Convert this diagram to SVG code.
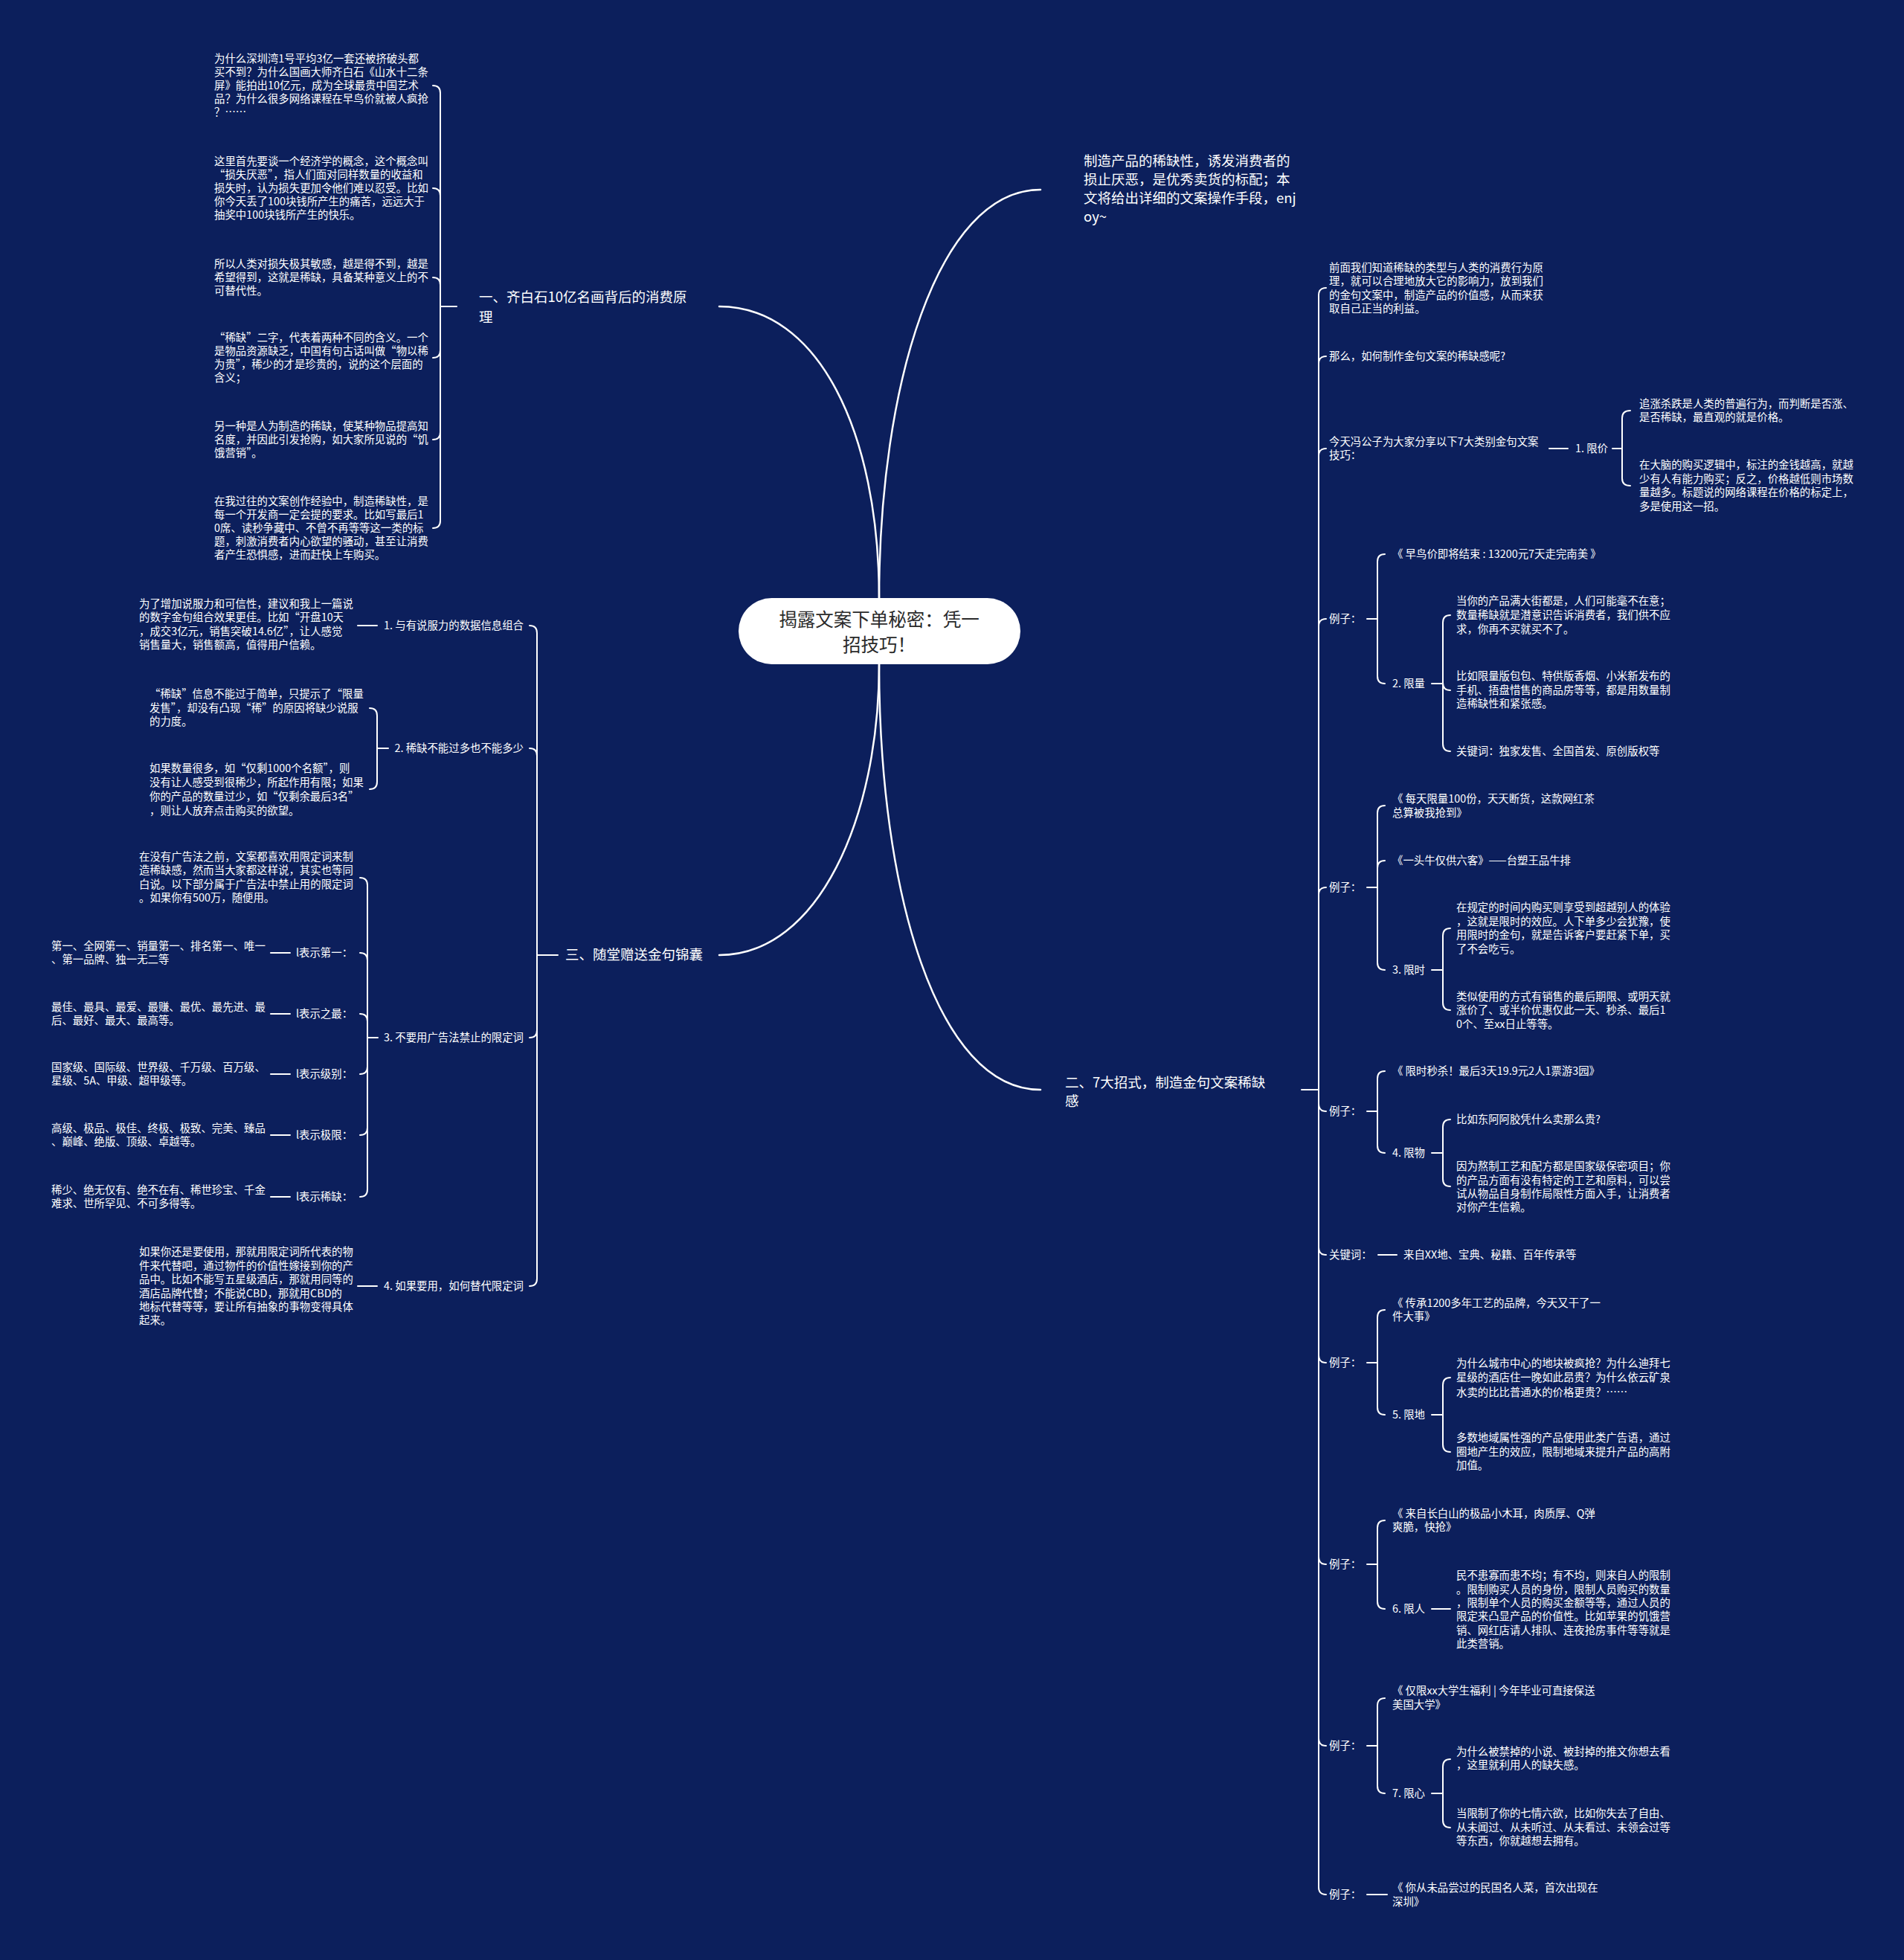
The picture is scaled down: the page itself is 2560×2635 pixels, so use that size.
<svg xmlns="http://www.w3.org/2000/svg" width="2560" height="2635" viewBox="0 0 2560 2635">
<style>
.t{font-family:"Noto Sans CJK SC","Noto Sans",sans-serif;font-size:14.4px;fill:#ffffff}
.m{font-size:18.5px}
.c{font-size:24.5px;fill:#2a2a2a}
.ln{fill:none;stroke:#ffffff;stroke-width:2;stroke-linecap:round}
.mc{stroke-width:2.5}
</style>
<rect x="0" y="0" width="2560" height="2635" fill="#0c1f5c"/>
<g id="connectors">
<path class="ln mc" d="M1182 805 C1182 580 1100 412 967 412"/>
<path class="ln mc" d="M1182 805 C1182 520 1260 255 1399 255"/>
<path class="ln mc" d="M1182 893 C1182 1100 1100 1284 967 1284"/>
<path class="ln mc" d="M1182 893 C1182 1200 1260 1465 1399 1465"/>
<!-- section 1 -->
<path class="ln" d="M592 125 L592 700 M592 412 L614 412 M582 115 Q592 115 592 125 M582 253 Q592 253 592 263 M582 373 Q592 373 592 383 M582 481 Q592 481 592 471 M582 591 Q592 591 592 581 M582 710 Q592 710 592 700"/>
<!-- section 3 -->
<path class="ln" d="M722 851 L722 1719 M722 1284 L750 1284 M712 841 Q722 841 722 851 M712 1006 Q722 1006 722 1016 M712 1395 Q722 1395 722 1385 M712 1729 Q722 1729 722 1719"/>
<path class="ln" d="M481 841 L507 841 M481 1729 L507 1729"/>
<path class="ln" d="M507 962 L507 1051 M507 1006 L522 1006 M497 952 Q507 952 507 962 M497 1061 Q507 1061 507 1051"/>
<path class="ln" d="M494 1190 L494 1599 M494 1395 L508 1395 M484 1180 Q494 1180 494 1190 M484 1281 Q494 1281 494 1291 M484 1363 Q494 1363 494 1373 M484 1444 Q494 1444 494 1434 M484 1526 Q494 1526 494 1516 M484 1609 Q494 1609 494 1599"/>
<path class="ln" d="M364 1281 L390 1281 M364 1363 L390 1363 M364 1444 L390 1444 M364 1526 L390 1526 M364 1609 L390 1609"/>
<!-- section 2 big bracket -->
<path class="ln" d="M1773 397 L1773 2537 M1750 1465 L1773 1465 M1783 387 Q1773 387 1773 397 M1783 479 Q1773 479 1773 489 M1783 603 Q1773 603 1773 613 M1783 832 Q1773 832 1773 842 M1783 1193 Q1773 1193 1773 1203 M1783 1494 Q1773 1494 1773 1484 M1783 1687 Q1773 1687 1773 1677 M1783 1832 Q1773 1832 1773 1822 M1783 2103 Q1773 2103 1773 2093 M1783 2347 Q1773 2347 1773 2337 M1783 2547 Q1773 2547 1773 2537"/>
<path class="ln" d="M2083 603 L2108 603 M2168 603 L2181 603 M2181 562 L2181 643 M2192 552 Q2181 552 2181 562 M2192 653 Q2181 653 2181 643"/>
<path class="ln" d="M1838 832 L1852 832 M1852 755 L1852 909 M1862 745 Q1852 745 1852 755 M1862 919 Q1852 919 1852 909"/>
<path class="ln" d="M1925 919 L1940 919 M1940 837 L1940 1000 M1950 827 Q1940 827 1940 837 M1950 928 Q1940 928 1940 918 M1950 1010 Q1940 1010 1940 1000"/>
<path class="ln" d="M1838 1193 L1852 1193 M1852 1093 L1852 1294 M1862 1083 Q1852 1083 1852 1093 M1862 1157 Q1852 1157 1852 1167 M1862 1304 Q1852 1304 1852 1294"/>
<path class="ln" d="M1925 1304 L1940 1304 M1940 1258 L1940 1348 M1950 1248 Q1940 1248 1940 1258 M1950 1358 Q1940 1358 1940 1348"/>
<path class="ln" d="M1838 1494 L1852 1494 M1852 1450 L1852 1540 M1862 1440 Q1852 1440 1852 1450 M1862 1550 Q1852 1550 1852 1540"/>
<path class="ln" d="M1925 1550 L1940 1550 M1940 1515 L1940 1585 M1950 1505 Q1940 1505 1940 1515 M1950 1595 Q1940 1595 1940 1585"/>
<path class="ln" d="M1853 1687 L1878 1687"/>
<path class="ln" d="M1838 1832 L1852 1832 M1852 1771 L1852 1892 M1862 1761 Q1852 1761 1852 1771 M1862 1902 Q1852 1902 1852 1892"/>
<path class="ln" d="M1925 1902 L1940 1902 M1940 1862 L1940 1942 M1950 1852 Q1940 1852 1940 1862 M1950 1952 Q1940 1952 1940 1942"/>
<path class="ln" d="M1838 2103 L1852 2103 M1852 2054 L1852 2153 M1862 2044 Q1852 2044 1852 2054 M1862 2163 Q1852 2163 1852 2153"/>
<path class="ln" d="M1925 2163 L1950 2163"/>
<path class="ln" d="M1838 2347 L1852 2347 M1852 2293 L1852 2401 M1862 2283 Q1852 2283 1852 2293 M1862 2411 Q1852 2411 1852 2401"/>
<path class="ln" d="M1925 2411 L1940 2411 M1940 2375 L1940 2447 M1950 2365 Q1940 2365 1940 2375 M1950 2457 Q1940 2457 1940 2447"/>
<path class="ln" d="M1838 2547 L1865 2547"/>
</g>
<g id="root">
<rect x="993" y="804" width="379" height="89" rx="44.5" fill="#ffffff"/>
<text class="t c" text-anchor="middle"><tspan x="1182" y="842">揭露文案下单秘密：凭一</tspan><tspan x="1182" y="876">招技巧！</tspan></text>
</g>
<g id="intro">
<text class="t m"><tspan x="1457" y="223">制造产品的稀缺性，诱发消费者的</tspan><tspan x="1457" y="248">损止厌恶，是优秀卖货的标配；本</tspan><tspan x="1457" y="273">文将给出详细的文案操作手段，enj</tspan><tspan x="1457" y="298">oy~</tspan></text>
</g>
<g id="b1">
<text class="t m"><tspan x="644" y="406">一、齐白石10亿名画背后的消费原</tspan><tspan x="644" y="433">理</tspan></text>
</g>
<g id="b1-1"><text class="t"><tspan x="288" y="84">为什么深圳湾1号平均3亿一套还被挤破头都</tspan><tspan x="288" y="102">买不到？为什么国画大师齐白石《山水十二条</tspan><tspan x="288" y="120">屏》能拍出10亿元，成为全球最贵中国艺术</tspan><tspan x="288" y="138">品？为什么很多网络课程在早鸟价就被人疯抢</tspan><tspan x="288" y="156">？……</tspan></text></g>
<g id="b1-2"><text class="t"><tspan x="288" y="222">这里首先要谈一个经济学的概念，这个概念叫</tspan><tspan x="288" y="240">“损失厌恶”，指人们面对同样数量的收益和</tspan><tspan x="288" y="258">损失时，认为损失更加令他们难以忍受。比如</tspan><tspan x="288" y="276">你今天丢了100块钱所产生的痛苦，远远大于</tspan><tspan x="288" y="294">抽奖中100块钱所产生的快乐。</tspan></text></g>
<g id="b1-3"><text class="t"><tspan x="288" y="360">所以人类对损失极其敏感，越是得不到，越是</tspan><tspan x="288" y="378">希望得到，这就是稀缺，具备某种意义上的不</tspan><tspan x="288" y="396">可替代性。</tspan></text></g>
<g id="b1-4"><text class="t"><tspan x="288" y="459">“稀缺”二字，代表着两种不同的含义。一个</tspan><tspan x="288" y="477">是物品资源缺乏，中国有句古话叫做“物以稀</tspan><tspan x="288" y="495">为贵”，稀少的才是珍贵的，说的这个层面的</tspan><tspan x="288" y="513">含义；</tspan></text></g>
<g id="b1-5"><text class="t"><tspan x="288" y="578">另一种是人为制造的稀缺，使某种物品提高知</tspan><tspan x="288" y="596">名度，并因此引发抢购，如大家所见说的“饥</tspan><tspan x="288" y="614">饿营销”。</tspan></text></g>
<g id="b1-6"><text class="t"><tspan x="288" y="679">在我过往的文案创作经验中，制造稀缺性，是</tspan><tspan x="288" y="697">每一个开发商一定会提的要求。比如写最后1</tspan><tspan x="288" y="715">0席、读秒争藏中、不曾不再等等这一类的标</tspan><tspan x="288" y="733">题，刺激消费者内心欲望的骚动，甚至让消费</tspan><tspan x="288" y="751">者产生恐惧感，进而赶快上车购买。</tspan></text></g>
<g id="b3"><text class="t m" x="760" y="1290">三、随堂赠送金句锦囊</text></g>
<g id="b3-1"><text class="t" x="704" y="846" text-anchor="end">1. 与有说服力的数据信息组合</text></g>
<g id="b3-1-1"><text class="t"><tspan x="187" y="817">为了增加说服力和可信性，建议和我上一篇说</tspan><tspan x="187" y="835">的数字金句组合效果更佳。比如“开盘10天</tspan><tspan x="187" y="854">，成交3亿元，销售突破14.6亿”，让人感觉</tspan><tspan x="187" y="872">销售量大，销售额高，值得用户信赖。</tspan></text></g>
<g id="b3-2"><text class="t" x="704" y="1011" text-anchor="end">2. 稀缺不能过多也不能多少</text></g>
<g id="b3-2-1"><text class="t"><tspan x="201" y="938">“稀缺”信息不能过于简单，只提示了“限量</tspan><tspan x="201" y="957">发售”，却没有凸现“稀”的原因将缺少说服</tspan><tspan x="201" y="975">的力度。</tspan></text></g>
<g id="b3-2-2"><text class="t"><tspan x="201" y="1038">如果数量很多，如“仅剩1000个名额”，则</tspan><tspan x="201" y="1057">没有让人感受到很稀少，所起作用有限；如果</tspan><tspan x="201" y="1076">你的产品的数量过少，如“仅剩余最后3名”</tspan><tspan x="201" y="1095">，则让人放弃点击购买的欲望。</tspan></text></g>
<g id="b3-3"><text class="t" x="704" y="1400" text-anchor="end">3. 不要用广告法禁止的限定词</text></g>
<g id="b3-3-0"><text class="t"><tspan x="187" y="1157">在没有广告法之前，文案都喜欢用限定词来制</tspan><tspan x="187" y="1175">造稀缺感，然而当大家都这样说，其实也等同</tspan><tspan x="187" y="1194">白说。以下部分属于广告法中禁止用的限定词</tspan><tspan x="187" y="1212">。如果你有500万，随便用。</tspan></text></g>
<g id="b3-3-1"><text class="t" x="398" y="1286">l表示第一：</text></g>
<g id="b3-3-1a"><text class="t"><tspan x="69" y="1277">第一、全网第一、销量第一、排名第一、唯一</tspan><tspan x="69" y="1295">、第一品牌、独一无二等</tspan></text></g>
<g id="b3-3-2"><text class="t" x="398" y="1368">l表示之最：</text></g>
<g id="b3-3-2a"><text class="t"><tspan x="69" y="1359">最佳、最具、最爱、最赚、最优、最先进、最</tspan><tspan x="69" y="1377">后、最好、最大、最高等。</tspan></text></g>
<g id="b3-3-3"><text class="t" x="398" y="1449">l表示级别：</text></g>
<g id="b3-3-3a"><text class="t"><tspan x="69" y="1440">国家级、国际级、世界级、千万级、百万级、</tspan><tspan x="69" y="1458">星级、5A、甲级、超甲级等。</tspan></text></g>
<g id="b3-3-4"><text class="t" x="398" y="1531">l表示极限：</text></g>
<g id="b3-3-4a"><text class="t"><tspan x="69" y="1522">高级、极品、极佳、终极、极致、完美、臻品</tspan><tspan x="69" y="1540">、巅峰、绝版、顶级、卓越等。</tspan></text></g>
<g id="b3-3-5"><text class="t" x="398" y="1614">l表示稀缺：</text></g>
<g id="b3-3-5a"><text class="t"><tspan x="69" y="1605">稀少、绝无仅有、绝不在有、稀世珍宝、千金</tspan><tspan x="69" y="1623">难求、世所罕见、不可多得等。</tspan></text></g>
<g id="b3-4"><text class="t" x="704" y="1734" text-anchor="end">4. 如果要用，如何替代限定词</text></g>
<g id="b3-4-1"><text class="t"><tspan x="187" y="1688">如果你还是要使用，那就用限定词所代表的物</tspan><tspan x="187" y="1707">件来代替吧，通过物件的价值性嫁接到你的产</tspan><tspan x="187" y="1725">品中。比如不能写五星级酒店，那就用同等的</tspan><tspan x="187" y="1744">酒店品牌代替；不能说CBD，那就用CBD的</tspan><tspan x="187" y="1762">地标代替等等，要让所有抽象的事物变得具体</tspan><tspan x="187" y="1780">起来。</tspan></text></g>
<g id="b2"><text class="t m"><tspan x="1432" y="1462">二、7大招式，制造金句文案稀缺</tspan><tspan x="1432" y="1487">感</tspan></text></g>
<g id="b2-1"><text class="t"><tspan x="1787" y="365">前面我们知道稀缺的类型与人类的消费行为原</tspan><tspan x="1787" y="383">理，就可以合理地放大它的影响力，放到我们</tspan><tspan x="1787" y="402">的金句文案中，制造产品的价值感，从而来获</tspan><tspan x="1787" y="420">取自己正当的利益。</tspan></text></g>
<g id="b2-2"><text class="t" x="1787" y="484">那么，如何制作金句文案的稀缺感呢?</text></g>
<g id="b2-3"><text class="t"><tspan x="1787" y="599">今天冯公子为大家分享以下7大类别金句文案</tspan><tspan x="1787" y="617">技巧：</tspan></text></g>
<g id="k1"><text class="t" x="2118" y="608">1. 限价</text></g>
<g id="k1-1"><text class="t"><tspan x="2204" y="548">追涨杀跌是人类的普遍行为，而判断是否涨、</tspan><tspan x="2204" y="566">是否稀缺，最直观的就是价格。</tspan></text></g>
<g id="k1-2"><text class="t"><tspan x="2204" y="630">在大脑的购买逻辑中，标注的金钱越高，就越</tspan><tspan x="2204" y="649">少有人有能力购买；反之，价格越低则市场数</tspan><tspan x="2204" y="667">量越多。标题说的网络课程在价格的标定上，</tspan><tspan x="2204" y="686">多是使用这一招。</tspan></text></g>
<g id="e1"><text class="t" x="1787" y="837">例子：</text></g>
<g id="e1-1"><text class="t" x="1872" y="750">《 早鸟价即将结束 : 13200元7天走完南美 》</text></g>
<g id="k2"><text class="t" x="1872" y="924">2. 限量</text></g>
<g id="k2-1"><text class="t"><tspan x="1958" y="813">当你的产品满大街都是，人们可能毫不在意；</tspan><tspan x="1958" y="832">数量稀缺就是潜意识告诉消费者，我们供不应</tspan><tspan x="1958" y="851">求，你再不买就买不了。</tspan></text></g>
<g id="k2-2"><text class="t"><tspan x="1958" y="914">比如限量版包包、特供版香烟、小米新发布的</tspan><tspan x="1958" y="933">手机、捂盘惜售的商品房等等，都是用数量制</tspan><tspan x="1958" y="951">造稀缺性和紧张感。</tspan></text></g>
<g id="k2-3"><text class="t" x="1958" y="1015">关键词：独家发售、全国首发、原创版权等</text></g>
<g id="e2"><text class="t" x="1787" y="1198">例子：</text></g>
<g id="e2-1"><text class="t"><tspan x="1872" y="1079">《 每天限量100份，天天断货，这款网红茶</tspan><tspan x="1872" y="1098">总算被我抢到》</tspan></text></g>
<g id="e2-2"><text class="t" x="1872" y="1162">《一头牛仅供六客》——台塑王品牛排</text></g>
<g id="k3"><text class="t" x="1872" y="1309">3. 限时</text></g>
<g id="k3-1"><text class="t"><tspan x="1958" y="1225">在规定的时间内购买则享受到超越别人的体验</tspan><tspan x="1958" y="1244">，这就是限时的效应。人下单多少会犹豫，使</tspan><tspan x="1958" y="1262">用限时的金句，就是告诉客户要赶紧下单，买</tspan><tspan x="1958" y="1281">了不会吃亏。</tspan></text></g>
<g id="k3-2"><text class="t"><tspan x="1958" y="1345">类似使用的方式有销售的最后期限、或明天就</tspan><tspan x="1958" y="1363">涨价了、或半价优惠仅此一天、秒杀、最后1</tspan><tspan x="1958" y="1382">0个、至xx日止等等。</tspan></text></g>
<g id="e3"><text class="t" x="1787" y="1499">例子：</text></g>
<g id="e3-1"><text class="t" x="1872" y="1445">《 限时秒杀！最后3天19.9元2人1票游3园》</text></g>
<g id="k4"><text class="t" x="1872" y="1555">4. 限物</text></g>
<g id="k4-1"><text class="t" x="1958" y="1510">比如东阿阿胶凭什么卖那么贵?</text></g>
<g id="k4-2"><text class="t"><tspan x="1958" y="1573">因为熬制工艺和配方都是国家级保密项目；你</tspan><tspan x="1958" y="1592">的产品方面有没有特定的工艺和原料，可以尝</tspan><tspan x="1958" y="1610">试从物品自身制作局限性方面入手，让消费者</tspan><tspan x="1958" y="1628">对你产生信赖。</tspan></text></g>
<g id="kw"><text class="t" x="1787" y="1692">关键词：</text></g>
<g id="kw-1"><text class="t" x="1887" y="1692">来自XX地、宝典、秘籍、百年传承等</text></g>
<g id="e4"><text class="t" x="1787" y="1837">例子：</text></g>
<g id="e4-1"><text class="t"><tspan x="1872" y="1757">《 传承1200多年工艺的品牌，今天又干了一</tspan><tspan x="1872" y="1775">件大事》</tspan></text></g>
<g id="k5"><text class="t" x="1872" y="1907">5. 限地</text></g>
<g id="k5-1"><text class="t"><tspan x="1958" y="1838">为什么城市中心的地块被疯抢？为什么迪拜七</tspan><tspan x="1958" y="1857">星级的酒店住一晚如此昂贵？为什么依云矿泉</tspan><tspan x="1958" y="1877">水卖的比比普通水的价格更贵？……</tspan></text></g>
<g id="k5-2"><text class="t"><tspan x="1958" y="1938">多数地域属性强的产品使用此类广告语，通过</tspan><tspan x="1958" y="1957">圈地产生的效应，限制地域来提升产品的高附</tspan><tspan x="1958" y="1975">加值。</tspan></text></g>
<g id="e5"><text class="t" x="1787" y="2108">例子：</text></g>
<g id="e5-1"><text class="t"><tspan x="1872" y="2040">《 来自长白山的极品小木耳，肉质厚、Q弹</tspan><tspan x="1872" y="2058">爽脆，快抢》</tspan></text></g>
<g id="k6"><text class="t" x="1872" y="2168">6. 限人</text></g>
<g id="k6-1"><text class="t"><tspan x="1958" y="2123">民不患寡而患不均；有不均，则来自人的限制</tspan><tspan x="1958" y="2142">。限制购买人员的身份，限制人员购买的数量</tspan><tspan x="1958" y="2160">，限制单个人员的购买金额等等，通过人员的</tspan><tspan x="1958" y="2178">限定来凸显产品的价值性。比如苹果的饥饿营</tspan><tspan x="1958" y="2197">销、网红店请人排队、连夜抢房事件等等就是</tspan><tspan x="1958" y="2215">此类营销。</tspan></text></g>
<g id="e6"><text class="t" x="1787" y="2352">例子：</text></g>
<g id="e6-1"><text class="t"><tspan x="1872" y="2278">《 仅限xx大学生福利 | 今年毕业可直接保送</tspan><tspan x="1872" y="2297">美国大学》</tspan></text></g>
<g id="k7"><text class="t" x="1872" y="2416">7. 限心</text></g>
<g id="k7-1"><text class="t"><tspan x="1958" y="2360">为什么被禁掉的小说、被封掉的推文你想去看</tspan><tspan x="1958" y="2378">，这里就利用人的缺失感。</tspan></text></g>
<g id="k7-2"><text class="t"><tspan x="1958" y="2443">当限制了你的七情六欲，比如你失去了自由、</tspan><tspan x="1958" y="2462">从未闻过、从未听过、从未看过、未领会过等</tspan><tspan x="1958" y="2480">等东西，你就越想去拥有。</tspan></text></g>
<g id="e7"><text class="t" x="1787" y="2552">例子：</text></g>
<g id="e7-1"><text class="t"><tspan x="1872" y="2543">《 你从未品尝过的民国名人菜，首次出现在</tspan><tspan x="1872" y="2562">深圳》</tspan></text></g>
</svg>
